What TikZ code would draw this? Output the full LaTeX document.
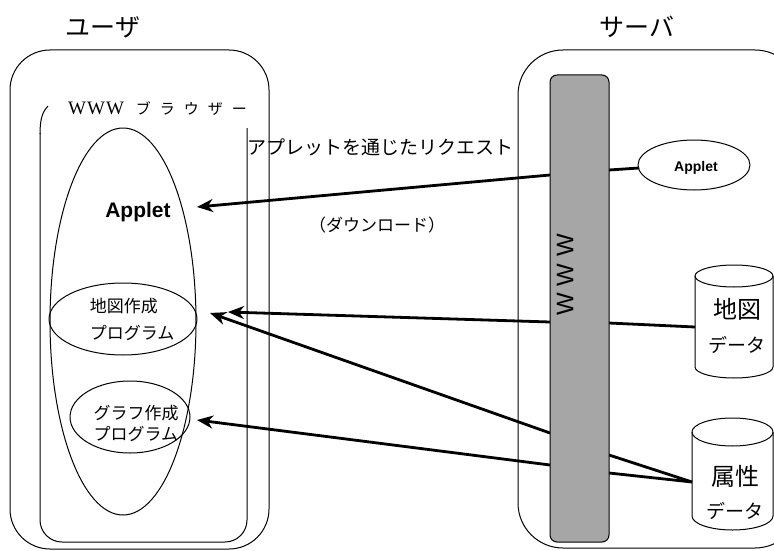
\documentclass[tikz,border=0pt]{standalone}
\usepackage{fontspec}
\newfontfamily\jp{Noto Sans CJK JP}
\newfontfamily\sansf{Liberation Sans}
\newfontfamily\serf{Liberation Serif}
\usetikzlibrary{arrows.meta,shapes.geometric}
\newcommand\jsp{\hspace{9pt}}
\begin{document}
\begin{tikzpicture}[x=1pt,y=-1pt,line join=round,
  outline/.style={draw=black,line width=1pt},
  conn/.style={draw=black,line width=2.8pt},
  arr/.style={conn,-{Stealth[length=16pt,width=13pt,inset=5pt]}},
  jtext/.style={inner sep=0pt},
  ell/.style={outline,ellipse,inner sep=0pt},
]
\useasboundingbox (0,0) rectangle (774,551);
\clip (0,0) rectangle (774,551);

% titles
\node[jtext,font=\jp\fontsize{25}{25}\selectfont] (tuser) at (103,27) {ユーザ};
\node[jtext,font=\jp\fontsize{25}{25}\selectfont] (tserv) at (637,27) {サーバ};

% user outer box
\draw[outline,rounded corners=40pt] (10,50) rectangle (269,549);
% browser box
\draw[outline] (48,106) .. controls (43,111) and (40,118) .. (40,134);
\draw[outline,rounded corners=22pt] (40,133) -- (40,542) -- (247,542) -- (247,128);
\node[anchor=west,inner sep=0pt] (blabel) at (68,109) {{\serf\fontsize{19}{19}\selectfont W\hspace{1pt}W\hspace{1pt}W}\hspace{12pt}{\jp\fontsize{15}{15}\selectfont ブ\jsp ラ\jsp ウ\jsp ザ\jsp ー}};

% big applet ellipse
\node[ell,minimum width=146pt,minimum height=387pt] (bigell) at (123,321.5) {};
\node[font=\sansf\bfseries\fontsize{21}{21}\selectfont,inner sep=0pt] (uapp) at (138,212) {Applet};

% map program
\node[ell,minimum width=148pt,minimum height=72pt] (mapell) at (123,319) {};
\node[jtext,align=left,font=\jp\fontsize{17}{27}\selectfont] (maptxt) at (132,319) {地図作成\\プログラム};
% graph program
\node[ell,minimum width=120pt,minimum height=72pt] (grell) at (130,417) {};
\node[jtext,align=left,font=\jp\fontsize{17}{21}\selectfont] (grtxt) at (136,423) {グラフ作成\\プログラム};

% labels
\node[jtext,font=\jp\fontsize{19}{19}\selectfont] (req) at (380,147) {アプレットを通じたリクエスト};
\node[jtext,font=\jp\fontsize{17}{17}\selectfont] (dl) at (377,225) {（ダウンロード）};

% server box
\draw[outline,rounded corners=45pt] (518,50) rectangle (800,548);

% server applet
\node[ell,minimum width=112pt,minimum height=50pt] (sapp) at (694,165) {};
\node[font=\sansf\bfseries\fontsize{14}{14}\selectfont,inner sep=0pt] (sapptxt) at (696,168) {Applet};

% map data cylinder
\draw[outline] (695,276) -- (695,367) arc[start angle=180,end angle=0,x radius=39,y radius=11] -- (773,276);
\draw[outline] (734,276) ellipse[x radius=39,y radius=11];
\node[jtext,font=\jp\fontsize{24}{24}\selectfont] (mapd1) at (737,309) {地図};
\node[jtext,font=\jp\fontsize{19}{19}\selectfont] (mapd2) at (737,345) {データ};

% attribute data cylinder
\draw[outline] (692,432) -- (692,516) arc[start angle=180,end angle=0,x radius=40.5,y radius=14] -- (773,432);
\draw[outline] (732.5,432) ellipse[x radius=40.5,y radius=14];
\node[jtext,font=\jp\fontsize{24}{24}\selectfont] (attd1) at (735,476) {属性};
\node[jtext,font=\jp\fontsize{19}{19}\selectfont] (attd2) at (735,511) {データ};

% connector end points
\coordinate (wR1) at (609,170);
\coordinate (sappL) at (639,168);
\coordinate (wL1) at (550,175);
\coordinate (t1) at (197,207);
\coordinate (mapL) at (695,327);
\coordinate (wR2) at (609,323);
\coordinate (wL2) at (550,322);
\coordinate (t2) at (228,312);
\coordinate (wL3) at (550,433);
\coordinate (t3) at (210,313);
\coordinate (wL4) at (550,465);
\coordinate (t4) at (197,420);
\coordinate (attL) at (692,482);
\coordinate (wR3) at (609,455);
\coordinate (wR4) at (609,473);

\draw[conn] (sappL) -- (wR1);
\draw[arr] (wL1) -- (t1);
\draw[conn] (mapL) -- (wR2);
\draw[arr] (wL2) -- (t2);
\draw[arr] (wL3) -- (t3);
\draw[arr] (wL4) -- (t4);
\draw[conn] (attL) -- (wR3);
\draw[conn] (attL) -- (wR4);

% WWW bar
\node[draw=black,line width=1pt,fill=black!35,rounded corners=7pt,minimum width=59pt,minimum height=467pt,inner sep=0pt] (www) at (579.5,308.5) {};
\node[rotate=90,font=\sansf\fontsize{24}{24}\selectfont,inner sep=0pt] (wwwtxt) at (565,275) {W\hspace{7pt}W\hspace{7pt}W};
\end{tikzpicture}
\end{document}
